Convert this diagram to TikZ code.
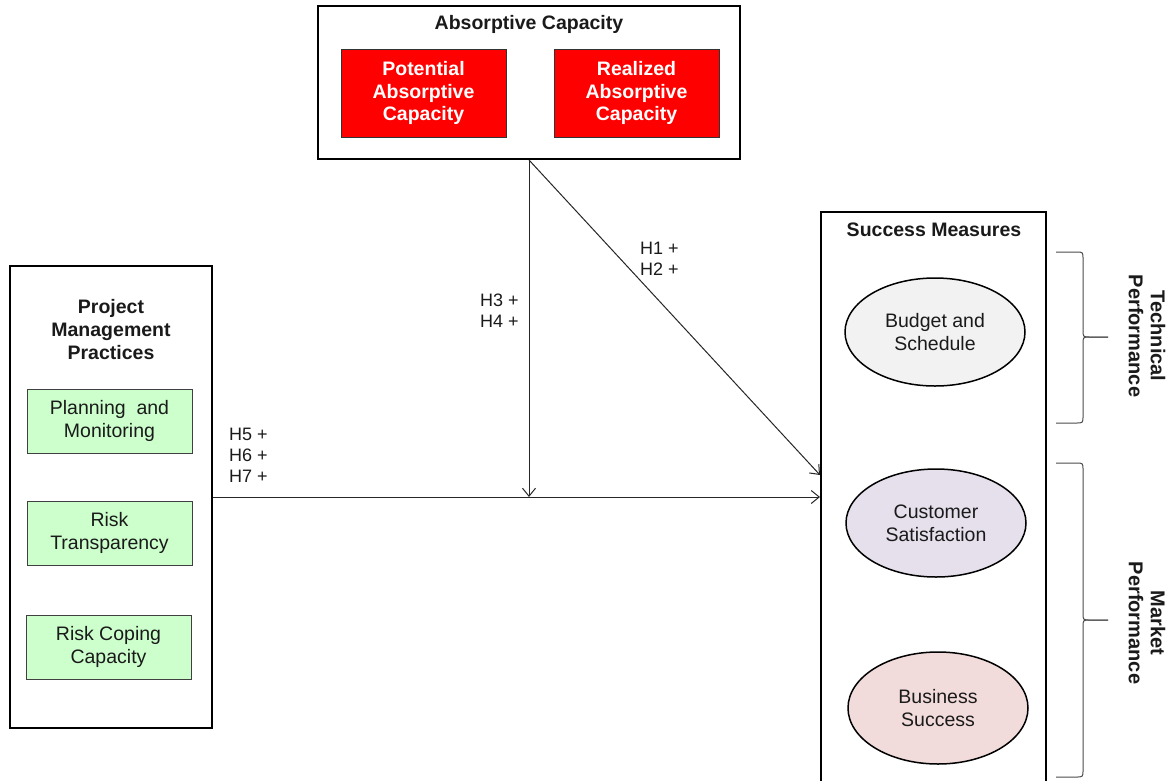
\documentclass[tikz,border=0pt]{standalone}
\usepackage{fontspec}
\setmainfont{Liberation Sans}
\usetikzlibrary{arrows.meta,shapes.geometric}
\definecolor{capred}{HTML}{FF0000}
\definecolor{pmgreen}{HTML}{CCFFCC}
\definecolor{budgetfill}{HTML}{F2F2F2}
\definecolor{custfill}{HTML}{E5E0EC}
\definecolor{busfill}{HTML}{F2DCDB}
\definecolor{ink}{HTML}{1A1A1A}
\tikzset{
  txt/.style={font=\fontsize{19.5}{23}\selectfont, text=ink, align=center, inner sep=0pt},
  boldtxt/.style={txt, font=\fontsize{19.5}{23}\selectfont\bfseries},
  hyp/.style={font=\fontsize{18}{21}\selectfont, text=ink, align=left, inner sep=0pt, anchor=west},
  frame/.style={draw=black, line width=2pt, fill=white, inner sep=0pt},
  capbox/.style={draw=black!80, line width=0.8pt, fill=capred, inner sep=0pt,
    minimum width=165pt, minimum height=88pt, text=white, align=center,
    font=\fontsize{19.5}{22.5}\selectfont\bfseries},
  pmbox/.style={draw=black!75, line width=0.8pt, fill=pmgreen, inner sep=0pt,
    minimum width=165pt, minimum height=64pt, txt},
  measure/.style={ellipse, draw=black, line width=1.5pt, inner sep=0pt,
    minimum width=180pt, minimum height=108pt, txt},
  link/.style={draw=black!85, line width=1pt, -{Straight Barb[length=8pt,width=13pt]}},
  bracket/.style={draw=black!70, line width=1pt},
  sidelabel/.style={font=\fontsize{20}{22}\selectfont\bfseries, text=ink, align=center,
    inner sep=0pt, rotate=-90}
}
\begin{document}
\begin{tikzpicture}[x=1pt,y=-1pt]
\clip (0,0) rectangle (1176,780);
\fill[white] (0,0) rectangle (1176,780);

% absorptive capacity block
\node[frame, minimum width=422pt, minimum height=153pt] (ac) at (529,82.5) {};
\node[boldtxt] (actitle) at (529,24) {Absorptive Capacity};
\node[capbox] (pacap) at (423.5,93) {Potential\\Absorptive\\Capacity};
\node[capbox] (racap) at (636.5,93) {Realized\\Absorptive\\Capacity};

% project management practices block
\node[frame, minimum width=202pt, minimum height=462pt] (pm) at (111,497) {};
\node[boldtxt] (pmtitle) at (111,330) {Project\\Management\\Practices};
\node[pmbox] (plan) at (109.5,421) {Planning\ \ and\\Monitoring};
\node[pmbox] (risk) at (109.5,533) {Risk\\Transparency};
\node[pmbox] (cope) at (108.5,647) {Risk Coping\\Capacity};

% success measures block
\node[frame, minimum width=225pt, minimum height=570pt] (sm) at (933.5,497) {};
\node[boldtxt] (smtitle) at (934,230) {Success Measures};
\node[measure, fill=budgetfill] (budget) at (935,332) {Budget and\\Schedule};
\node[measure, fill=custfill] (cust) at (936,523) {Customer\\Satisfaction};
\node[measure, fill=busfill, minimum height=112pt] (bus) at (938,708) {Business\\Success};

% connectors
\coordinate (meet) at (ac.south |- pm.east);
\draw[link] (pm.east) -- (sm.west);
\draw[link] (ac.south) -- (meet);
\draw[link] (ac.south) -- (sm.west |- 0,475);

% hypothesis labels
\node[hyp] (h12) at (640,259) {H1 +\\H2 +};
\node[hyp] (h34) at (480,311) {H3 +\\H4 +};
\node[hyp] (h567) at (229,455) {H5 +\\H6 +\\H7 +};

% performance brackets
\draw[bracket] (1056,252) -- (1076,252) .. controls (1083,252) .. (1083,259)
  -- (1083,330) .. controls (1083,337) .. (1090,337) -- (1108,337);
\draw[bracket] (1108,337) -- (1090,337) .. controls (1083,337) .. (1083,344)
  -- (1083,416) .. controls (1083,423) .. (1076,423) -- (1056,423);
\draw[bracket] (1056,463) -- (1076,463) .. controls (1083,463) .. (1083,470)
  -- (1083,613) .. controls (1083,620) .. (1090,620) -- (1108,620);
\draw[bracket] (1108,620) -- (1090,620) .. controls (1083,620) .. (1083,627)
  -- (1083,770) .. controls (1083,777) .. (1076,777) -- (1056,777);

\node[sidelabel] (tech) at (1147,336) {Technical\\Performance};
\node[sidelabel] (market) at (1147,623) {Market\\Performance};
\end{tikzpicture}
\end{document}
